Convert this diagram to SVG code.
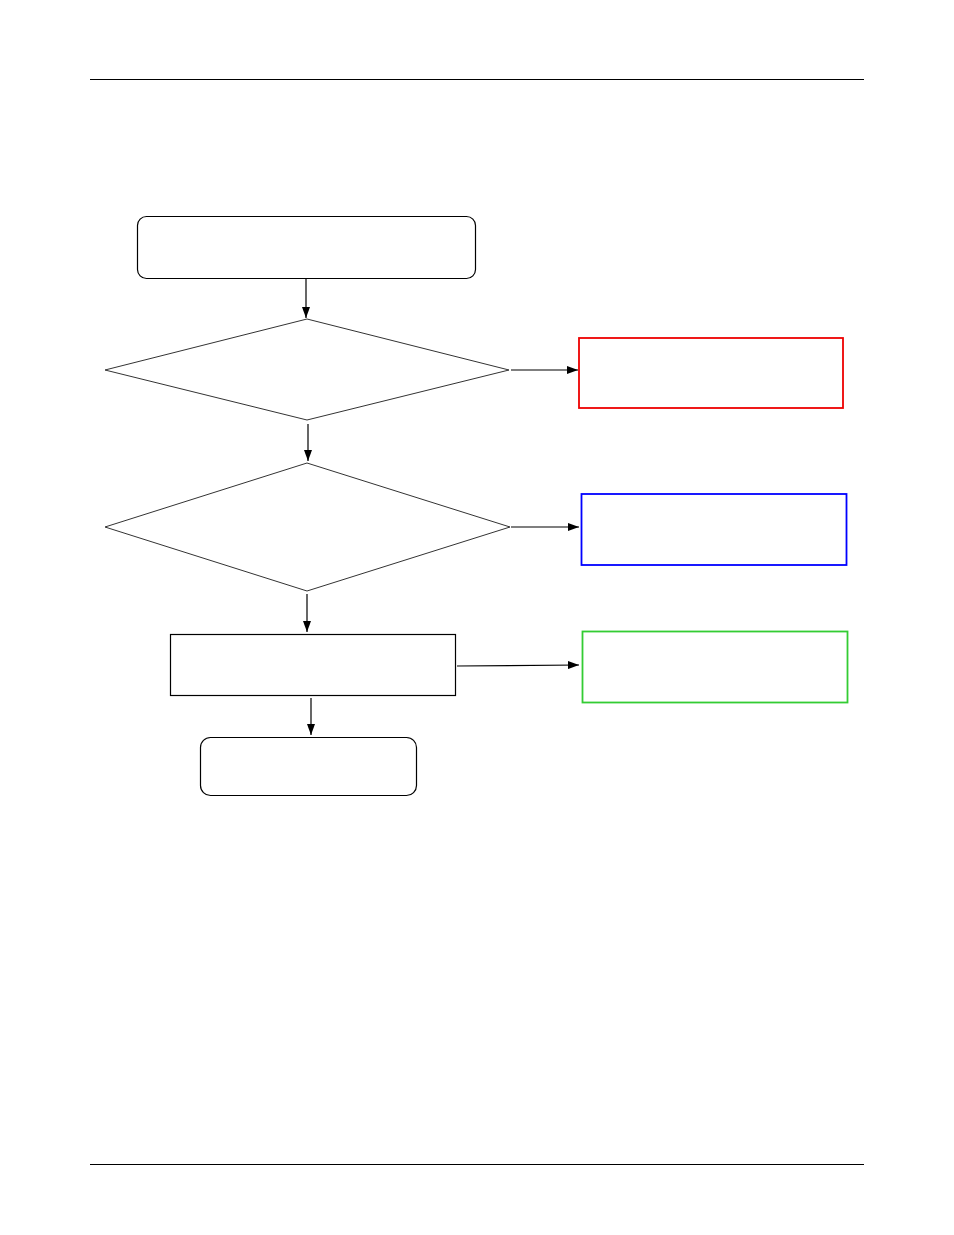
<svg xmlns="http://www.w3.org/2000/svg" width="954" height="1235" viewBox="0 0 954 1235">
<style>
.n{fill:#fff;stroke:#000;stroke-width:1.2}
.d{fill:#fff;stroke:#333;stroke-width:1}
.c{stroke:#000;stroke-width:1.2;fill:none;marker-end:url(#ah)}
.rule{stroke:#000;stroke-width:1.2}
</style>
<defs>
<marker id="ah" viewBox="0 0 11 8" refX="11" refY="4" markerWidth="11" markerHeight="8" markerUnits="userSpaceOnUse" orient="auto">
<path d="M0,0 L11,4 L0,8 Z" fill="#000"/>
</marker>
</defs>
<rect width="954" height="1235" fill="#fff"/>
<line class="rule" x1="90" y1="79.5" x2="864" y2="79.5"/>
<line class="rule" x1="90" y1="1164.5" x2="864" y2="1164.5"/>
<g id="start"><rect class="n" x="137.5" y="216.5" width="338" height="62" rx="9"/></g>
<g id="decision1"><polygon class="d" points="105,370 307,319 509,370 307,420"/></g>
<g id="decision2"><polygon class="d" points="105,527 307,463 510,527 307,591"/></g>
<g id="process"><rect class="n" x="170.5" y="634.5" width="285" height="61"/></g>
<g id="end"><rect class="n" x="200.5" y="737.5" width="216" height="58" rx="10"/></g>
<g id="red"><rect x="579" y="338" width="264" height="70" fill="#fff" stroke="#e00" stroke-width="1.8"/></g>
<g id="blue"><rect x="581.5" y="494" width="265" height="71" fill="#fff" stroke="#00f" stroke-width="1.8"/></g>
<g id="green"><rect x="582.5" y="631.5" width="265" height="71" fill="#fff" stroke="#3c3" stroke-width="1.8"/></g>
<g id="connectors">
<line class="c" x1="306" y1="278" x2="306" y2="318"/>
<line class="c" x1="308" y1="424" x2="308" y2="461"/>
<line class="c" x1="307" y1="594" x2="307" y2="632"/>
<line class="c" x1="311" y1="698" x2="311" y2="735"/>
<line class="c" x1="511" y1="370" x2="578" y2="370"/>
<line class="c" x1="511" y1="527" x2="579" y2="527"/>
<line class="c" x1="457" y1="666" x2="579" y2="665" stroke="#666"/>
</g>
</svg>
